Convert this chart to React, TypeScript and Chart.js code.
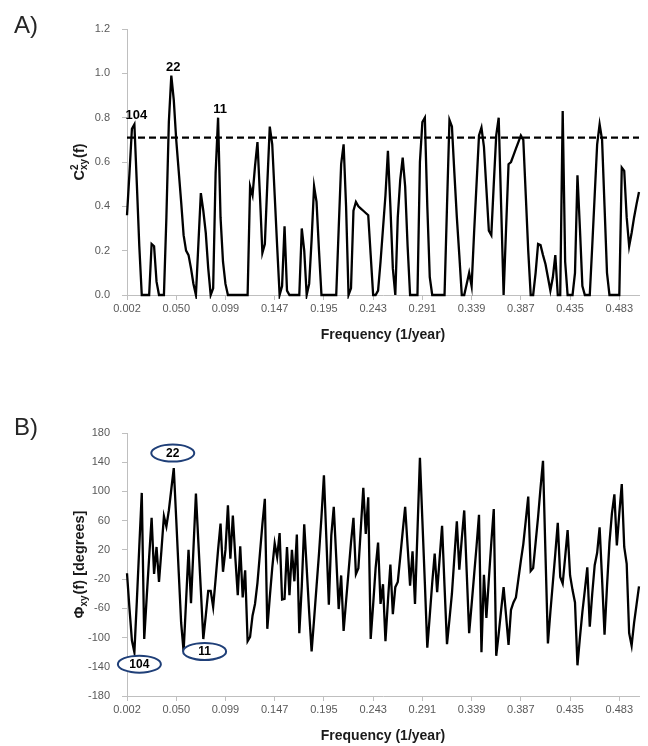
import React, { useEffect, useRef } from 'react';
import { Chart, registerables } from 'chart.js';

Chart.register(...registerables);

// Spectral frequencies k / 416 (1/year), k = 1 … 209
const RECORD_YEARS = 416;
const FREQUENCY_COUNT = 209;
const FREQUENCIES: string[] = Array.from({ length: FREQUENCY_COUNT }, (_, i) => ((i + 1) / RECORD_YEARS).toFixed(3));
const FREQUENCY_TICKS = ['0.002', '0.050', '0.099', '0.147', '0.195', '0.243', '0.291', '0.339', '0.387', '0.435', '0.483'];
const TICK_STEP = 20;

// Squared coherence C²xy(f)
const COHERENCE = [
  0.36, 0.55, 0.75, 0.77, 0.50, 0.22, 0, 0, 0, 0,
  0.23, 0.22, 0.06, 0, 0, 0, 0.35, 0.78, 0.99, 0.88,
  0.70, 0.56, 0.42, 0.27, 0.20, 0.18, 0.12, 0.05, 0, 0.23,
  0.46, 0.38, 0.28, 0.12, 0, 0.03, 0.55, 0.80, 0.35, 0.15,
  0.05, 0, 0, 0, 0, 0, 0, 0, 0, 0,
  0.49, 0.45, 0.58, 0.69, 0.45, 0.19, 0.23, 0.50, 0.76, 0.68,
  0.45, 0.22, 0, 0.04, 0.31, 0.02, 0, 0, 0, 0,
  0, 0.30, 0.20, 0, 0.05, 0.25, 0.49, 0.42, 0.20, 0,
  0, 0, 0, 0, 0, 0, 0.30, 0.59, 0.68, 0.40,
  0, 0.03, 0.38, 0.42, 0.40, 0.39, 0.38, 0.37, 0.36, 0.18,
  0, 0, 0.02, 0.15, 0.30, 0.45, 0.65, 0.40, 0.12, 0,
  0.35, 0.52, 0.62, 0.49, 0.22, 0, 0, 0, 0, 0.60,
  0.78, 0.80, 0.40, 0.08, 0, 0, 0, 0, 0, 0,
  0.40, 0.79, 0.76, 0.55, 0.35, 0.18, 0, 0, 0.05, 0.10,
  0.04, 0.28, 0.50, 0.72, 0.755, 0.67, 0.48, 0.29, 0.27, 0.50,
  0.72, 0.80, 0.40, 0, 0.30, 0.59, 0.60, 0.63, 0.66, 0.69,
  0.72, 0.70, 0.45, 0.20, 0, 0, 0.10, 0.23, 0.225, 0.18,
  0.14, 0.08, 0.02, 0.08, 0.18, 0, 0, 0.83, 0.15, 0,
  0, 0, 0.10, 0.54, 0.30, 0.04, 0, 0, 0, 0.22,
  0.45, 0.68, 0.77, 0.70, 0.40, 0.10, 0, 0, 0, 0,
  0, 0.575, 0.56, 0.35, 0.22, 0.28, 0.35, 0.41, 0.465,
];
const COHERENCE_THRESHOLD = 0.71;
const COHERENCE_TICKS = ['0.0', '0.2', '0.4', '0.6', '0.8', '1.0', '1.2'];

// Phase spectrum Φxy(f), degrees
const PHASE = [
  -12, -60, -104, -120, -50, 25, 98, -102, -45, 10,
  64, -13, 24, -24, 20, 66, 52, 74, 103, 132,
  62, -10, -80, -119, -50, 20, -53, 22, 97, 30,
  -35, -102, -70, -36, -36, -58, -20, 20, 56, -10,
  20, 81, 8, 67, 10, -42, 25, -45, -8, -105,
  -99, -70, -54, -25, 15, 55, 90, -88, -45, -5,
  29, 10, 43, -48, -47, 24, -42, 20, -23, 41,
  -94, -30, 55, -5, -65, -119, -75, -30, 15, 65,
  122, 35, -55, 40, 79, 10, -61, -15, -91, -50,
  -10, 30, 64, -13, -5, 50, 105, 42, 92, -102,
  -55, -5, 30, -54, -27, -105, -50, 0, -68, -31,
  -24, 10, 45, 79, 25, -29, 18, -54, 45, 146,
  60, -25, -114, -70, -25, 15, -38, 8, 53, -30,
  -109, -75, -40, 10, 59, -7, 35, 74, -10, -94,
  -55, -15, 25, 68, -120, -14, -73, -20, 30, 76,
  -125, -95, -62, -31, -70, -110, -62, -52, -45, -20,
  5, 28, 60, 93, -9, -5, 30, 65, 105, 142,
  15, -108, -65, -25, 15, 57, -17, -26, 10, 47,
  -15, -35, -52, -138, -100, -65, -35, -4, -85, -40,
  -1, 16, 51, -20, -96, -30, 30, 70, 96, 26,
  70, 110, 24, 1, -94, -111, -80, -55, -30,
];
const PHASE_TICKS = ['-180', '-140', '-100', '-60', '-20', '20', '60', '100', '140', '180'];

// Periods (years) of the dominant coherence peaks and the points they mark
const PERIOD_LABELS = ['104', '22', '11'];
const COHERENCE_PEAK_INDEX = [3, 18, 37];
const PHASE_MARK_INDEX = [3, 19, 23];

const FONT = '"Liberation Sans", Arial, Helvetica, sans-serif';
const AXIS_COLOR = '#bfbfbf';
const TICK_COLOR = '#595959';
const TITLE_COLOR = '#1a1a1a';
const CANVAS_W = 648;

type TitleParts = { base: string; sup?: string; sub: string; tail: string };

function drawYTitle(ctx: CanvasRenderingContext2D, cx: number, cy: number, p: TitleParts, size: number) {
  const big = `bold ${size}px ${FONT}`;
  const small = `bold ${Math.round(size * 0.66)}px ${FONT}`;
  ctx.font = big;
  const wBase = ctx.measureText(p.base).width;
  const wTail = ctx.measureText(p.tail).width;
  ctx.font = small;
  const wSup = p.sup ? ctx.measureText(p.sup).width : 0;
  const wSub = ctx.measureText(p.sub).width;
  const wMid = Math.max(wSup, wSub) + 1;
  const total = wBase + wMid + wTail;
  ctx.save();
  ctx.translate(cx, cy);
  ctx.rotate(-Math.PI / 2);
  ctx.fillStyle = TITLE_COLOR;
  ctx.textAlign = 'left';
  ctx.textBaseline = 'alphabetic';
  let x = -total / 2;
  const baseY = size * 0.36;
  ctx.font = big;
  ctx.fillText(p.base, x, baseY);
  x += wBase;
  ctx.font = small;
  if (p.sup) ctx.fillText(p.sup, x, baseY - size * 0.42);
  ctx.fillText(p.sub, x, baseY + size * 0.22);
  x += wMid;
  ctx.font = big;
  ctx.fillText(p.tail, x, baseY);
  ctx.restore();
}

// Axis titles, threshold line and period annotations
const decorPlugin = {
  id: 'panelDecor',
  afterDatasetsDraw(chart: any, _args: any, opts: any) {
    const { ctx, chartArea, scales } = chart;
    const xs = scales.x;
    const ys = scales.y;
    const values: number[] = chart.data.datasets[0].data;
    ctx.save();

    if (opts.threshold != null) {
      const yy = ys.getPixelForValue(opts.threshold);
      ctx.setLineDash([7, 4]);
      ctx.lineWidth = 2.2;
      ctx.strokeStyle = '#000';
      ctx.beginPath();
      ctx.moveTo(chartArea.left, yy);
      ctx.lineTo(chartArea.right, yy);
      ctx.stroke();
      ctx.setLineDash([]);
    }

    if (opts.peakLabels) {
      ctx.font = `bold 13px ${FONT}`;
      ctx.fillStyle = '#000';
      ctx.textAlign = 'center';
      ctx.textBaseline = 'bottom';
      opts.peakLabels.forEach((lab: any) => {
        const px = xs.getPixelForValue(lab.index);
        const py = ys.getPixelForValue(values[lab.index]);
        ctx.fillText(lab.text, px + 2, py - 2);
      });
    }

    if (opts.ovals) {
      opts.ovals.forEach((o: any) => {
        const px = xs.getPixelForValue(o.index) + o.dx;
        const py = ys.getPixelForValue(values[o.index]) + o.dy;
        ctx.beginPath();
        ctx.ellipse(px, py, 21.5, 8.5, 0, 0, Math.PI * 2);
        ctx.fillStyle = '#fff';
        ctx.fill();
        ctx.lineWidth = 2;
        ctx.strokeStyle = '#1f3f78';
        ctx.stroke();
        ctx.font = `bold 12px ${FONT}`;
        ctx.fillStyle = '#000';
        ctx.textAlign = 'center';
        ctx.textBaseline = 'middle';
        ctx.fillText(o.text, px, py + 0.5);
      });
    }

    ctx.font = `bold 14px ${FONT}`;
    ctx.fillStyle = TITLE_COLOR;
    ctx.textAlign = 'center';
    ctx.textBaseline = 'middle';
    ctx.fillText(opts.xTitle, (chartArea.left + chartArea.right) / 2, chartArea.bottom + 40);

    drawYTitle(ctx, 79, (chartArea.top + chartArea.bottom) / 2, opts.yTitle, 14.5);
    ctx.restore();
  },
};

function xScale(height: number) {
  return {
    type: 'category',
    offset: false,
    grid: { display: true, drawOnChartArea: false, drawTicks: true, tickLength: 5, color: AXIS_COLOR, lineWidth: 1 },
    border: { display: true, color: AXIS_COLOR, width: 1 },
    ticks: {
      autoSkip: false,
      maxRotation: 0,
      minRotation: 0,
      padding: 2,
      color: TICK_COLOR,
      font: { family: FONT, size: 11 },
      callback: (_v: any, i: number) => (i % TICK_STEP === 0 ? FREQUENCY_TICKS[i / TICK_STEP] : null),
    },
    afterFit: (s: any) => {
      s.height = height;
    },
  };
}

function yScale(min: number, max: number, step: number, labels: string[]) {
  return {
    type: 'linear',
    min,
    max,
    grid: { display: true, drawOnChartArea: false, drawTicks: true, tickLength: 5, color: AXIS_COLOR, lineWidth: 1 },
    border: { display: true, color: AXIS_COLOR, width: 1 },
    ticks: {
      stepSize: step,
      padding: 12,
      color: TICK_COLOR,
      font: { family: FONT, size: 11 },
      callback: (v: any) => labels[Math.round((v - min) / step)],
    },
    afterFit: (s: any) => {
      s.width = 127;
    },
  };
}

function lineDataset(values: number[]) {
  return {
    data: values,
    borderColor: '#000',
    borderWidth: 2.3,
    pointRadius: 0,
    tension: 0,
    fill: false,
    clip: 4,
  };
}

export default function App() {
  const refA = useRef<HTMLCanvasElement | null>(null);
  const refB = useRef<HTMLCanvasElement | null>(null);

  useEffect(() => {
    if (!refA.current || !refB.current) return;
    const chartA = new Chart(refA.current, {
      type: 'line',
      data: { labels: FREQUENCIES, datasets: [lineDataset(COHERENCE) as any] },
      options: {
        responsive: false,
        animation: false,
        layout: { padding: { top: 29, right: 9, bottom: 0, left: 0 } },
        plugins: {
          legend: { display: false },
          tooltip: { enabled: false },
          panelDecor: {
            threshold: COHERENCE_THRESHOLD,
            peakLabels: PERIOD_LABELS.map((text, k) => ({ text, index: COHERENCE_PEAK_INDEX[k] })),
            xTitle: 'Frequency (1/year)',
            yTitle: { base: 'C', sup: '2', sub: 'xy', tail: '(f)' },
          },
        } as any,
        scales: {
          x: xScale(55) as any,
          y: yScale(0, 1.2, 0.2, COHERENCE_TICKS) as any,
        },
      },
      plugins: [decorPlugin],
    });

    const ovalOffsets = [
      { dx: 5, dy: 12 },
      { dx: -1, dy: -15 },
      { dx: 21, dy: 0 },
    ];
    const chartB = new Chart(refB.current, {
      type: 'line',
      data: { labels: FREQUENCIES, datasets: [lineDataset(PHASE) as any] },
      options: {
        responsive: false,
        animation: false,
        layout: { padding: { top: 58, right: 9, bottom: 0, left: 0 } },
        plugins: {
          legend: { display: false },
          tooltip: { enabled: false },
          panelDecor: {
            ovals: PERIOD_LABELS.map((text, k) => ({ text, index: PHASE_MARK_INDEX[k], ...ovalOffsets[k] })),
            xTitle: 'Frequency (1/year)',
            yTitle: { base: 'Φ', sub: 'xy', tail: '(f) [degrees]' },
          },
        } as any,
        scales: {
          x: xScale(50) as any,
          y: yScale(-180, 180, 40, PHASE_TICKS) as any,
        },
      },
      plugins: [decorPlugin],
    });

    return () => {
      chartA.destroy();
      chartB.destroy();
    };
  }, []);

  const panelLetter: React.CSSProperties = {
    position: 'absolute',
    left: 14,
    fontFamily: FONT,
    fontSize: 24,
    lineHeight: '24px',
    color: '#262626',
  };

  return (
    <div style={{ position: 'absolute', left: 0, top: 0, width: CANVAS_W, height: 746, background: '#fff', overflow: 'hidden' }}>
      <canvas ref={refA} width={CANVAS_W} height={350} style={{ position: 'absolute', left: 0, top: 0 }} />
      <canvas ref={refB} width={CANVAS_W} height={371} style={{ position: 'absolute', left: 0, top: 375 }} />
      <div style={{ ...panelLetter, top: 13 }}>A)</div>
      <div style={{ ...panelLetter, top: 415 }}>B)</div>
    </div>
  );
}
